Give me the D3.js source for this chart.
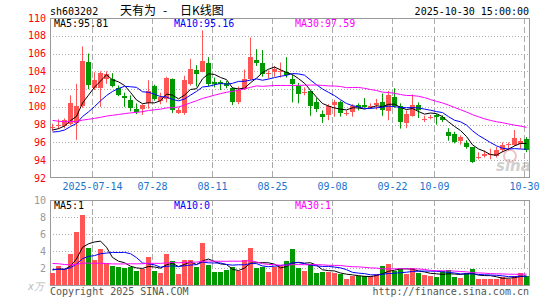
<!DOCTYPE html>
<html>
<head>
<meta charset="utf-8">
<script src="https://cdn.jsdelivr.net/npm/d3@7/dist/d3.min.js"></script>
<style>
  body { margin: 0; background: #fff; }
  text { font-family: 'DejaVu Sans Mono', 'Liberation Mono', monospace; font-size: 10px; }
</style>
</head>
<body>
<script>
// trading days shown, oldest first
const dates = [
  '2025-07-03', '2025-07-04', '2025-07-07', '2025-07-08', '2025-07-09', '2025-07-10', '2025-07-11',
  '2025-07-14', '2025-07-15', '2025-07-16', '2025-07-17', '2025-07-18',
  '2025-07-21', '2025-07-22', '2025-07-23', '2025-07-24', '2025-07-25',
  '2025-07-28', '2025-07-29', '2025-07-30', '2025-07-31', '2025-08-01',
  '2025-08-04', '2025-08-05', '2025-08-06', '2025-08-07', '2025-08-08',
  '2025-08-11', '2025-08-12', '2025-08-13', '2025-08-14', '2025-08-15',
  '2025-08-18', '2025-08-19', '2025-08-20', '2025-08-21', '2025-08-22',
  '2025-08-25', '2025-08-26', '2025-08-27', '2025-08-28', '2025-08-29',
  '2025-09-01', '2025-09-02', '2025-09-03', '2025-09-04', '2025-09-05',
  '2025-09-08', '2025-09-09', '2025-09-10', '2025-09-11', '2025-09-12',
  '2025-09-15', '2025-09-16', '2025-09-17', '2025-09-18', '2025-09-19',
  '2025-09-22', '2025-09-23', '2025-09-24', '2025-09-25', '2025-09-26',
  '2025-09-29', '2025-09-30', '2025-10-09', '2025-10-10',
  '2025-10-13', '2025-10-14', '2025-10-15', '2025-10-16', '2025-10-17',
  '2025-10-20', '2025-10-21', '2025-10-22', '2025-10-23', '2025-10-24',
  '2025-10-27', '2025-10-28', '2025-10-29', '2025-10-30'
]
const opens = [
  97.6, 97.8, 97.8, 98.0, 98.2, 100.1, 105.0, 102.1, 102.1, 103.1,
  103.1, 102.1, 101.2, 100.8, 99.8, 99.8, 100.4, 102.4, 100.6, 100.8,
  103.1, 99.4, 99.3, 102.6, 104.1, 104.0, 104.9, 102.85, 102.8, 102.7,
  102.1, 100.5, 102.0, 103.1, 105.3, 104.9, 103.7, 104.0, 104.0, 103.9,
  103.1, 102.4, 101.6, 101.75, 100.5, 99.2, 99.05, 100.3, 100.6, 99.2,
  99.4, 100.2, 100.25, 100.05, 100.2, 100.5, 99.5, 101.1, 100.1, 98.2,
  99.0, 100.2, 98.55, 98.8, 99.1, 98.86, 97.2, 97.0, 96.1, 95.98,
  95.45, 94.35, 94.5, 94.7, 94.55, 95.2, 95.7, 95.75, 95.85, 96.4
]
const highs = [
  98.1, 98.6, 98.7, 101.3, 102.6, 106.8, 106.0, 103.9, 104.0, 104.0,
  103.8, 102.4, 101.6, 101.3, 100.4, 100.3, 103.0, 102.5, 101.6, 103.4,
  103.2, 99.9, 103.5, 105.4, 104.7, 108.6, 105.6, 103.3, 103.0, 102.9,
  102.2, 102.3, 104.2, 107.8, 106.5, 106.4, 104.1, 104.6, 105.0, 105.6,
  103.6, 102.7, 102.2, 101.8, 101.0, 99.6, 100.3, 100.8, 100.7, 99.6,
  100.3, 100.4, 101.0, 100.4, 100.9, 101.5, 101.8, 102.1, 100.4, 99.6,
  101.4, 100.5, 99.0, 99.1, 99.2, 99.05, 97.6, 97.2, 96.8, 96.25,
  95.45, 94.9, 95.1, 95.3, 95.5, 96.0, 96.0, 97.4, 96.5, 96.6
]
const lows = [
  97.3, 97.5, 97.6, 97.9, 96.3, 99.9, 102.0, 101.9, 100.0, 102.6,
  102.2, 101.2, 100.0, 99.5, 99.2, 99.1, 99.8, 100.7, 100.3, 100.5,
  99.3, 99.2, 99.1, 102.4, 102.3, 103.9, 102.3, 102.2, 101.9, 102.1,
  100.2, 100.3, 101.9, 103.0, 104.6, 103.4, 103.2, 103.4, 103.3, 103.3,
  100.5, 100.4, 101.3, 99.0, 99.4, 98.2, 98.5, 98.9, 98.9, 99.0,
  98.9, 99.6, 99.9, 99.8, 99.7, 99.0, 98.5, 99.9, 97.55, 97.6,
  98.9, 98.75, 98.3, 98.6, 98.0, 98.3, 96.2, 95.9, 95.75, 95.3,
  93.7, 94.1, 94.3, 94.1, 94.3, 94.9, 95.1, 95.6, 95.3, 94.9
]
const closes = [
  97.7, 97.95, 98.5, 100.4, 100.1, 105.2, 102.4, 103.0, 103.8, 103.7,
  102.3, 101.3, 100.95, 99.9, 99.45, 100.2, 101.8, 100.9, 101.1, 103.2,
  99.6, 99.7, 103.0, 104.3, 103.6, 105.2, 102.5, 102.65, 102.6, 102.4,
  100.55, 101.9, 103.1, 105.6, 105.0, 103.7, 103.8, 104.3, 104.05, 103.55,
  102.5, 101.5, 101.7, 100.1, 99.7, 98.9, 100.1, 100.6, 99.4, 99.3,
  100.1, 100.0, 100.0, 100.15, 100.4, 99.6, 101.3, 100.1, 98.3, 99.2,
  100.2, 99.6, 98.65, 98.9, 98.86, 98.5, 96.7, 96.05, 96.6, 95.5,
  93.8, 94.4, 94.7, 94.75, 95.2, 95.75, 95.85, 96.5, 96.15, 95.2
]
// volume, in 万手
const volumes = [
  1.4, 2.2, 1.85, 3.7, 6.2, 8.2, 4.3, 2.9, 4.2, 2.6,
  2.2, 2.1, 2.0, 2.15, 1.6, 1.9, 3.25, 1.7, 1.45, 3.6,
  2.8, 1.25, 3.0, 2.9, 2.1, 4.9, 2.4, 1.5, 1.5, 1.75,
  2.1, 1.65, 2.95, 4.4, 2.0, 2.15, 1.55, 2.15, 2.2, 2.8,
  4.2, 2.0, 1.65, 2.45, 1.37, 1.5, 1.5, 1.45, 1.25, 0.65,
  1.1, 1.05, 1.05, 1.1, 1.25, 2.2, 2.45, 1.7, 1.9, 1.25,
  2.0, 1.4, 1.15, 1.05, 1.0, 1.65, 1.75, 1.0, 0.8, 1.4,
  1.9, 0.7, 0.75, 0.75, 0.75, 1.0, 0.75, 1.05, 1.45, 1.05
]
// 29 sessions before the window, only used to start the moving averages
const priorCloses = [
  100.6, 100.2, 99.8, 100.4, 100.1, 99.6, 99.9, 100.3, 99.5, 99.6,
  98.6, 98.0, 97.5, 97.6, 97.9, 97.8, 98.5, 99.1, 98.9, 98.7,
  97.4, 96.8, 96.5, 96.6, 97.4, 97.2, 97.0, 97.4, 97.7
]
const priorVolumes = [
  3.2, 4.5, 5.1, 4.4, 3.8, 4.2, 3.6, 3.9, 3.5, 3.8,
  2.2, 1.9, 1.6, 1.8, 1.5, 1.7, 1.9, 1.6, 1.7, 1.7,
  2.1, 1.8, 2.0, 1.9, 1.8, 1.6, 2.0, 1.9, 1.9
]
const priceTicks = [92, 94, 96, 98, 100, 102, 104, 106, 108, 110]
const volumeTicks = [2, 4, 6, 8, 10]
const tickDates = ['2025-07-14', '2025-07-28', '2025-08-11', '2025-08-25', '2025-09-08', '2025-09-22', '2025-10-09', '2025-10-30']
const tickLabels = ['2025-07-14', '07-28', '08-11', '08-25', '09-08', '09-22', '10-09', '10-30']
const maPeriods = [5, 10, 30]
const priceMaText = ['MA5:95.81', 'MA10:95.16', 'MA30:97.59']
const volumeMaText = ['MA5:1', 'MA10:0', 'MA30:1']

const width = 545
const height = 300
const left = 50
const right = 530
const maColors = ['#000000', '#0000ff', '#ff00ff']
const up = '#ff5555'
const down = '#009900'

const svg = d3.select('body')
  .append('svg')
  .attr('width', width)
  .attr('height', height)

const x = d3.scaleBand().domain(dates).range([left, right])
const yP = d3.scaleLinear().domain([92, 110]).range([178, 18])
const yV = d3.scaleLinear().domain([0, 10]).range([285, 200])

function movingAverage (prior, values, n) {
  const all = prior.concat(values)
  const off = prior.length
  return values.map((v, i) => d3.mean(all.slice(off + i - n + 1, off + i + 1)))
}

const rows = dates.map((d, i) => ({
  date: d, o: opens[i], h: highs[i], l: lows[i], c: closes[i], v: volumes[i]
}))
const isUp = (d) => d.c >= d.o

/* ------- header ------- */
svg.append('text').attr('x', 50).attr('y', 15).text('sh603202')
const cjk = "'Noto Sans CJK SC', sans-serif"
svg.append('text').attr('x', 120).attr('y', 15)
  .style('font-family', cjk).style('font-size', '12px')
  .text('天有为')
svg.append('text').attr('x', 163).attr('y', 15)
  .style('font-family', cjk).style('font-size', '12px')
  .text('-')
svg.append('text').attr('x', 180).attr('y', 15)
  .style('font-family', cjk).style('font-size', '12px')
  .text('日K线图')
svg.append('text').attr('x', 529).attr('y', 15).attr('text-anchor', 'end').text('2025-10-30 15:00:00')

/* ------- grids and frames ------- */
function panel (y, ticks, top, bottom) {
  const g = svg.append('g')
  g.selectAll('line.h')
    .data(ticks.filter((t) => y(t) > top + 1 && y(t) < bottom - 1))
    .enter().append('line')
    .attr('x1', left).attr('x2', right - 1)
    .attr('y1', (t) => Math.round(y(t)) + 0.5)
    .attr('y2', (t) => Math.round(y(t)) + 0.5)
    .attr('stroke', '#aaa')
    .attr('stroke-dasharray', '1,2')
  g.selectAll('line.v')
    .data(tickDates)
    .enter().append('line')
    .attr('x1', (d) => x(d) + 0.5).attr('x2', (d) => x(d) + 0.5)
    .attr('y1', top).attr('y2', bottom)
    .attr('stroke', '#aaa')
    .attr('stroke-dasharray', '6,3')
  g.append('rect')
    .attr('x', left + 0.5).attr('y', top + 0.5)
    .attr('width', right - left - 1).attr('height', bottom - top)
    .attr('fill', 'none')
    .attr('stroke', '#999')
}
panel(yP, priceTicks, 18, 177)
panel(yV, volumeTicks, 200, 285)

/* ------- axis labels ------- */
svg.append('g').selectAll('text')
  .data(priceTicks)
  .enter().append('text')
  .attr('x', 46).attr('y', (t) => yP(t))
  .attr('dy', '0.35em')
  .attr('text-anchor', 'end')
  .attr('fill', '#ff0000')
  .text((t) => t)

svg.append('g').selectAll('text')
  .data(volumeTicks)
  .enter().append('text')
  .attr('x', 46).attr('y', (t) => yV(t))
  .attr('dy', '0.35em')
  .attr('text-anchor', 'end')
  .attr('fill', '#999')
  .text((t) => t)

svg.append('text')
  .attr('x', 44).attr('y', 290)
  .attr('text-anchor', 'end')
  .attr('fill', '#bbb')
  .style('font-style', 'italic')
  .text('x万')

svg.append('g').selectAll('text')
  .data(tickDates)
  .enter().append('text')
  .attr('x', (d) => x(d) + 0.5).attr('y', 190)
  .attr('text-anchor', 'middle')
  .attr('fill', '#1a73cc')
  .text((d, i) => tickLabels[i])

/* ------- watermark ------- */
const logo = svg.append('g').attr('opacity', 0.55)
logo.append('circle').attr('cx', 510).attr('cy', 156).attr('r', 6)
  .attr('fill', 'none').attr('stroke', '#d99').attr('stroke-width', 2)
logo.append('text').attr('x', 496).attr('y', 171)
  .style('font-family', "'DejaVu Sans', sans-serif")
  .style('font-size', '15px').style('font-weight', 'bold').style('font-style', 'italic')
  .attr('fill', '#aaa')
  .text('sina')

/* ------- candles ------- */
const candles = svg.append('g').selectAll('g')
  .data(rows)
  .enter().append('g')

candles.append('line')
  .attr('x1', (d) => x(d.date) + 2.5).attr('x2', (d) => x(d.date) + 2.5)
  .attr('y1', (d) => yP(d.h)).attr('y2', (d) => yP(d.l))
  .attr('stroke', (d) => isUp(d) ? up : down)

candles.append('rect')
  .attr('x', (d) => x(d.date))
  .attr('y', (d) => Math.round(yP(Math.max(d.o, d.c))))
  .attr('width', 5)
  .attr('height', (d) => Math.max(1, Math.round(Math.abs(yP(d.o) - yP(d.c)))))
  .attr('fill', (d) => isUp(d) ? up : down)
  .attr('shape-rendering', 'crispEdges')

/* ------- volume bars ------- */
svg.append('g').selectAll('rect')
  .data(rows)
  .enter().append('rect')
  .attr('x', (d) => x(d.date))
  .attr('y', (d) => yV(d.v))
  .attr('width', 5)
  .attr('height', (d) => yV(0) - yV(d.v))
  .attr('fill', (d) => isUp(d) ? up : down)
  .attr('shape-rendering', 'crispEdges')

/* ------- moving averages ------- */
function maLines (prior, values, y) {
  maPeriods.forEach((n, k) => {
    const line = d3.line()
      .x((d, i) => x(dates[i]) + 2.5)
      .y((d) => y(d))
    svg.append('path')
      .datum(movingAverage(prior, values, n))
      .attr('d', line)
      .attr('fill', 'none')
      .attr('stroke', maColors[k])
      .attr('stroke-width', 1)
  })
}
maLines(priorCloses, closes, yP)
maLines(priorVolumes, volumes, yV)

/* ------- MA legends ------- */
const legendX = [54, 174, 295]
priceMaText.forEach((t, k) => {
  svg.append('text').attr('x', legendX[k]).attr('y', 27).attr('fill', maColors[k]).text(t)
})
volumeMaText.forEach((t, k) => {
  svg.append('text').attr('x', legendX[k]).attr('y', 209).attr('fill', maColors[k]).text(t)
})

/* ------- footer ------- */
svg.append('text').attr('x', 50).attr('y', 295).attr('fill', '#555').text('Copyright 2025 SINA.COM')
svg.append('text').attr('x', 529).attr('y', 295).attr('text-anchor', 'end').attr('fill', '#555').text('http://finance.sina.com.cn')
</script>
</body>
</html>
